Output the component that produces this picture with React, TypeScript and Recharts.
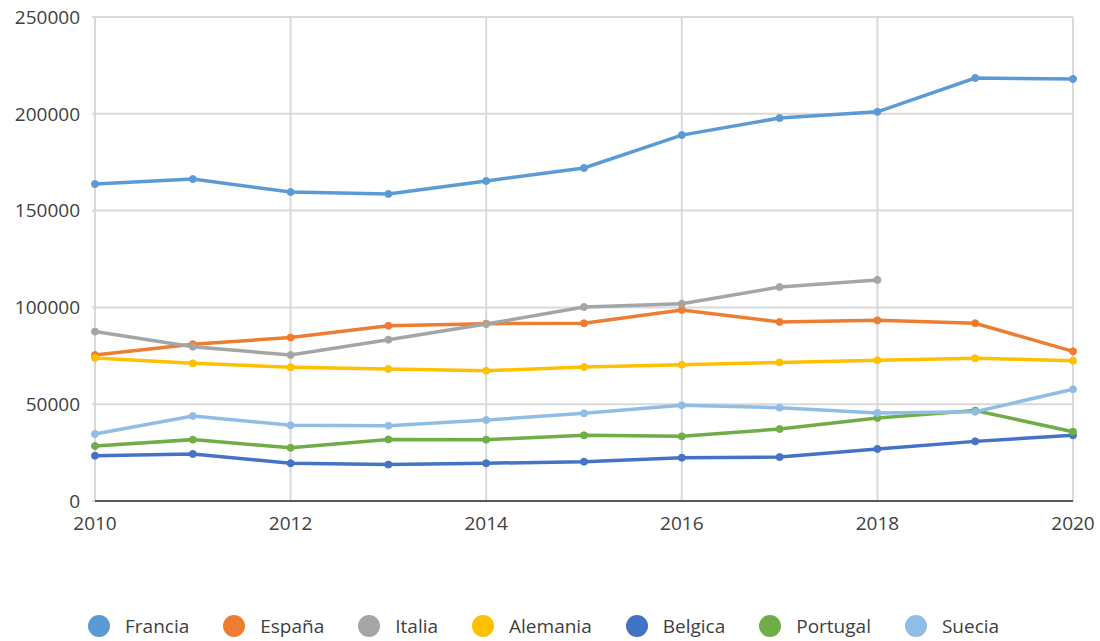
import { LineChart, Line, XAxis, YAxis, CartesianGrid, Legend } from 'recharts';

const years = [2010, 2011, 2012, 2013, 2014, 2015, 2016, 2017, 2018, 2019, 2020];

const francia = [163700, 166300, 159600, 158600, 165300, 172000, 189000, 197800, 201000, 218500, 218000];
const espana = [75400, 81000, 84400, 90500, 91600, 91800, 98700, 92500, 93300, 91800, 77300];
const italia = [87500, 79700, 75400, 83300, 91400, 100200, 101900, 110500, 114200, null, null];
const alemania = [73900, 71100, 69100, 68200, 67300, 69200, 70400, 71600, 72700, 73700, 72500];
const belgica = [23400, 24300, 19500, 18800, 19500, 20300, 22400, 22700, 26900, 30800, 33900];
const portugal = [28400, 31700, 27500, 31800, 31700, 33900, 33400, 37200, 42900, 46700, 35800];
const suecia = [34600, 43900, 39100, 38900, 41800, 45300, 49400, 48200, 45500, 46100, 57700];

const xTicks = [2010, 2012, 2014, 2016, 2018, 2020];
const yTicks = [0, 50000, 100000, 150000, 200000, 250000];

const series = [
  { key: 'Francia', values: francia, color: '#5B9BD5' },
  { key: 'España', values: espana, color: '#ED7D31' },
  { key: 'Italia', values: italia, color: '#A5A5A5' },
  { key: 'Alemania', values: alemania, color: '#FFC000' },
  { key: 'Belgica', values: belgica, color: '#4472C4' },
  { key: 'Portugal', values: portugal, color: '#70AD47' },
  { key: 'Suecia', values: suecia, color: '#90BDE6' },
];

const data = years.map((year, i) => {
  const row: Record<string, number | null> = { year };
  series.forEach((s) => {
    row[s.key] = s.values[i];
  });
  return row;
});

const FONT = '"Open Sans", "DejaVu Sans", sans-serif';

const LegendContent = () => (
  <div
    style={{
      height: 30,
      display: 'flex',
      justifyContent: 'flex-start',
      alignItems: 'center',
      paddingLeft: 88,
      fontFamily: FONT,
      fontSize: 19,
      color: '#404040',
    }}
  >
    {series.map((s) => (
      <div key={s.key} style={{ display: 'flex', alignItems: 'center', marginRight: 34 }}>
        <span
          style={{
            width: 22,
            height: 22,
            borderRadius: '50%',
            background: s.color,
            display: 'inline-block',
            marginRight: 15,
          }}
        />
        <span>{s.key}</span>
      </div>
    ))}
  </div>
);

export default function App() {
  return (
    <div style={{ position: 'absolute', left: 0, top: 0, background: '#fff' }}>
      <LineChart width={1100} height={641} data={data} margin={{ top: 17, right: 27, left: 0, bottom: 0 }}>
        <CartesianGrid stroke="#D9D9D9" strokeWidth={2} />
        <XAxis
          dataKey="year"
          type="number"
          domain={[2010, 2020]}
          ticks={xTicks}
          height={110}
          tickSize={0}
          tickMargin={16}
          tickLine={false}
          axisLine={{ stroke: '#595959', strokeWidth: 2 }}
          tick={{ fill: '#404040', fontSize: 19, fontFamily: FONT }}
        />
        <YAxis
          type="number"
          domain={[0, 250000]}
          ticks={yTicks}
          width={95}
          tickSize={3}
          tickMargin={12}
          axisLine={false}
          tickLine={{ stroke: '#D9D9D9', strokeWidth: 2 }}
          tick={{ fill: '#404040', fontSize: 19, fontFamily: FONT }}
        />
        <Legend verticalAlign="bottom" content={<LegendContent />} />
        {series.map((s) => (
          <Line
            key={s.key}
            dataKey={s.key}
            stroke={s.color}
            strokeWidth={3.5}
            dot={{ r: 3.5, fill: s.color, stroke: s.color, strokeWidth: 1 }}
            activeDot={false}
            isAnimationActive={false}
          />
        ))}
      </LineChart>
    </div>
  );
}
